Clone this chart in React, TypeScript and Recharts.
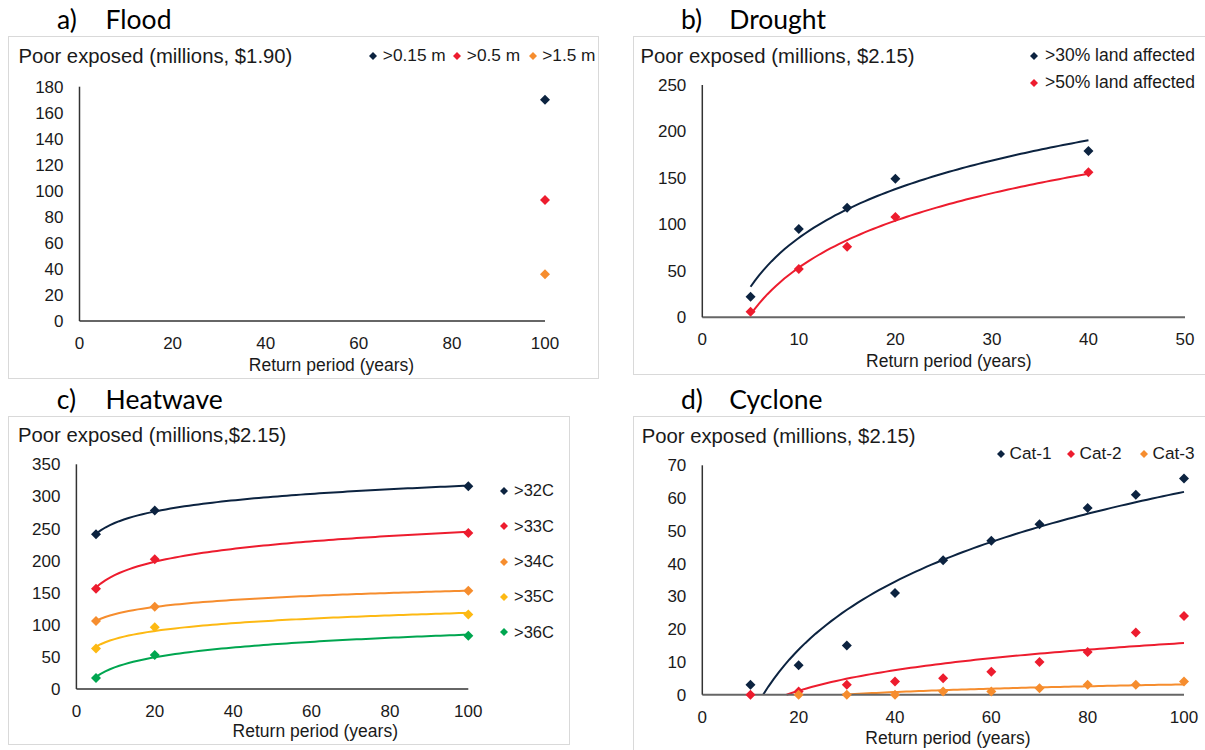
import { ComposedChart, Line, Scatter, XAxis, YAxis, Legend } from 'recharts'

const FONT = '"Liberation Sans", Arial, sans-serif'
const TITLE_FONT = 'Lato, "Open Sans", sans-serif'

const NAVY = '#0c2340'
const RED = '#ed1c2e'
const ORANGE = '#f68d2e'
const GOLD = '#fdb913'
const GREEN = '#00a650'

// a) Flood
const floodYears = [100]
const flood015 = [170]
const flood05 = [93]
const flood15 = [36]

// b) Drought
const droughtYears = [5, 10, 15, 20, 40]
const drought30 = [22, 95, 118, 149, 179]
const drought50 = [6, 52, 76, 108, 156]

// c) Heatwave
const heatYears = [5, 20, 100]
const heat32 = [241, 278, 316]
const heat33 = [156, 202, 243]
const heat34 = [106, 128, 153]
const heat35 = [63, 96, 116]
const heat36 = [17, 53, 83]

// d) Cyclone
const cycloneYears = [10, 20, 30, 40, 50, 60, 70, 80, 90, 100]
const cat1 = [3, 9, 15, 31, 41, 47, 52, 57, 61, 66]
const cat2 = [0, 1, 3, 4, 5, 7, 10, 13, 19, 24]
const cat3 = [null, 0, 0, 0, 1, 1, 2, 3, 3, 4]

// ticks
const years100Ticks = [0, 20, 40, 60, 80, 100]
const floodYTicks = [0, 20, 40, 60, 80, 100, 120, 140, 160, 180]
const droughtXTicks = [0, 10, 20, 30, 40, 50]
const droughtYTicks = [0, 50, 100, 150, 200, 250]
const heatYTicks = [0, 50, 100, 150, 200, 250, 300, 350]
const cycloneYTicks = [0, 10, 20, 30, 40, 50, 60, 70]

type Pt = { x: number; y: number }
type Series = { name: string; color: string; xs: number[]; ys: (number | null)[]; trend: boolean }

const toPoints = (xs: number[], ys: (number | null)[]): Pt[] =>
  xs.flatMap((x, i) => (ys[i] == null ? [] : [{ x, y: ys[i] as number }]))

// excel style log trendline (least squares on ln x), cut where it drops below the axis
const logTrend = (pts: Pt[]): Pt[] => {
  const n = pts.length
  const lx = pts.map((p) => Math.log(p.x))
  const mx = lx.reduce((s, v) => s + v, 0) / n
  const my = pts.reduce((s, p) => s + p.y, 0) / n
  let sxy = 0
  let sxx = 0
  pts.forEach((p, i) => {
    sxy += (lx[i] - mx) * (p.y - my)
    sxx += (lx[i] - mx) ** 2
  })
  const a = sxy / sxx
  const b = my - a * mx
  let x0 = pts[0].x
  const x1 = pts[n - 1].x
  const root = Math.exp(-b / a)
  if (a > 0 && root > x0) x0 = root
  const steps = 80
  return Array.from({ length: steps + 1 }, (_, i) => {
    const x = x0 + ((x1 - x0) * i) / steps
    return { x, y: Math.max(0, a * Math.log(x) + b) }
  })
}

const Diamond = (props: any) => {
  const { cx, cy, fill } = props
  if (cx == null || cy == null) return null
  const r = 5
  return <path d={`M${cx},${cy - r}L${cx + r},${cy}L${cx},${cy + r}L${cx - r},${cy}Z`} fill={fill} />
}

type Rect = { x: number; y: number; w: number; h: number }
type PanelProps = {
  tag: string
  title: string
  tagX: number
  titleX: number
  titleBase: number
  frame: Rect
  plot: { l: number; t: number; r: number; b: number }
  yLabel: string
  yLabelX: number
  yLabelBase: number
  xLabelX: number
  xLabelBase: number
  xDomain: [number, number]
  xTicks: number[]
  yDomain: [number, number]
  yTicks: number[]
  series: Series[]
  legendPos: { x: number; y: number }[]
  legendFont: number
  legendGap: number
}

const Panel = (p: PanelProps) => {
  const { frame, plot } = p
  const xAxisH = 30
  return (
    <>
      <div
        style={{
          position: 'absolute',
          left: frame.x,
          top: frame.y,
          width: frame.w,
          height: frame.h,
          border: '1.5px solid #d9d9d9',
          boxSizing: 'border-box',
        }}
      />
      <div style={{ position: 'absolute', left: frame.x, top: frame.y }}>
        <ComposedChart
          width={frame.w}
          height={frame.h}
          margin={{
            top: plot.t - frame.y,
            right: frame.x + frame.w - plot.r,
            bottom: frame.y + frame.h - plot.b - xAxisH,
            left: 0,
          }}
        >
          <XAxis
            dataKey="x"
            type="number"
            domain={p.xDomain}
            ticks={p.xTicks}
            interval={0}
            height={xAxisH}
            tickLine={false}
            tickMargin={10}
            axisLine={{ stroke: '#666666', strokeWidth: 2 }}
            tick={{ fill: '#1a1a1a', fontSize: 17, fontFamily: FONT }}
          />
          <YAxis
            dataKey="y"
            type="number"
            domain={p.yDomain}
            ticks={p.yTicks}
            interval={0}
            width={plot.l - frame.x}
            tickLine={false}
            tickMargin={10}
            axisLine={{ stroke: '#333333', strokeWidth: 1.5 }}
            tick={{ fill: '#1a1a1a', fontSize: 17, fontFamily: FONT }}
          />
          {p.series
            .filter((s) => s.trend)
            .map((s) => (
              <Line
                key={'t' + s.name}
                data={logTrend(toPoints(s.xs, s.ys))}
                dataKey="y"
                type="linear"
                stroke={s.color}
                strokeWidth={2}
                dot={false}
                activeDot={false}
                legendType="none"
                isAnimationActive={false}
              />
            ))}
          {p.series.map((s) => (
            <Scatter
              key={s.name}
              name={s.name}
              data={toPoints(s.xs, s.ys)}
              dataKey="y"
              fill={s.color}
              shape={(sp: any) => <Diamond {...sp} fill={s.color} />}
              isAnimationActive={false}
            />
          ))}
          <Legend
            layout="horizontal"
            verticalAlign="middle"
            align="center"
            wrapperStyle={{ left: 0, top: 0, width: frame.w, height: frame.h, pointerEvents: 'none' }}
            content={() => (
              <div style={{ position: 'relative', width: frame.w, height: frame.h }}>
                {p.series.map((s, i) => (
                  <div
                    key={s.name}
                    style={{
                      position: 'absolute',
                      left: p.legendPos[i].x - frame.x - 4,
                      top: p.legendPos[i].y - frame.y - 10,
                      height: 20,
                      display: 'flex',
                      alignItems: 'center',
                      whiteSpace: 'nowrap',
                      fontFamily: FONT,
                      fontSize: p.legendFont,
                      color: '#1a1a1a',
                    }}
                  >
                    <svg width={8} height={8} style={{ display: 'block' }}>
                      <path d="M4,0L8,4L4,8L0,4Z" fill={s.color} />
                    </svg>
                    <span style={{ marginLeft: p.legendGap }}>{s.name}</span>
                  </div>
                ))}
              </div>
            )}
          />
        </ComposedChart>
      </div>
      <svg
        width={1205}
        height={750}
        style={{ position: 'absolute', left: 0, top: 0, pointerEvents: 'none' }}
      >
        <text x={p.tagX} y={p.titleBase} fontFamily={TITLE_FONT} fontSize={26.5} fill="#000">
          {p.tag}
        </text>
        <text x={p.titleX} y={p.titleBase} fontFamily={TITLE_FONT} fontSize={26.5} fill="#000">
          {p.title}
        </text>
        <text x={p.yLabelX} y={p.yLabelBase} fontFamily={FONT} fontSize={20.3} fill="#1a1a1a">
          {p.yLabel}
        </text>
        <text
          x={p.xLabelX}
          y={p.xLabelBase}
          fontFamily={FONT}
          fontSize={17.5}
          fill="#1a1a1a"
          textAnchor="middle"
        >
          Return period (years)
        </text>
      </svg>
    </>
  )
}

const App = () => {
  return (
    <div
      style={{
        position: 'absolute',
        left: 0,
        top: 0,
        width: 1205,
        height: 750,
        background: '#fff',
        overflow: 'hidden',
      }}
    >
      <Panel
        tag="a)"
        title="Flood"
        tagX={57}
        titleX={105.6}
        titleBase={29.3}
        frame={{ x: 8, y: 36, w: 591, h: 343 }}
        plot={{ l: 79.5, t: 86.7, r: 545, b: 321 }}
        yLabel="Poor exposed (millions, $1.90)"
        yLabelX={18.4}
        yLabelBase={63.3}
        xLabelX={331.5}
        xLabelBase={370.7}
        xDomain={[0, 100]}
        xTicks={years100Ticks}
        yDomain={[0, 180]}
        yTicks={floodYTicks}
        series={[
          { name: '>0.15 m', color: NAVY, xs: floodYears, ys: flood015, trend: false },
          { name: '>0.5 m', color: RED, xs: floodYears, ys: flood05, trend: false },
          { name: '>1.5 m', color: ORANGE, xs: floodYears, ys: flood15, trend: false },
        ]}
        legendPos={[
          { x: 373.3, y: 55.8 },
          { x: 457.3, y: 55.8 },
          { x: 532.7, y: 55.8 },
        ]}
        legendFont={17.3}
        legendGap={5.5}
      />
      <Panel
        tag="b)"
        title="Drought"
        tagX={681}
        titleX={729.3}
        titleBase={29.3}
        frame={{ x: 633, y: 36, w: 575, h: 339 }}
        plot={{ l: 702.3, t: 85, r: 1185, b: 317.3 }}
        yLabel="Poor exposed (millions, $2.15)"
        yLabelX={640.5}
        yLabelBase={63.3}
        xLabelX={948.8}
        xLabelBase={366.7}
        xDomain={[0, 50]}
        xTicks={droughtXTicks}
        yDomain={[0, 250]}
        yTicks={droughtYTicks}
        series={[
          { name: '>30% land affected', color: NAVY, xs: droughtYears, ys: drought30, trend: true },
          { name: '>50% land affected', color: RED, xs: droughtYears, ys: drought50, trend: true },
        ]}
        legendPos={[
          { x: 1034, y: 55.8 },
          { x: 1034, y: 82.8 },
        ]}
        legendFont={17.5}
        legendGap={7}
      />
      <Panel
        tag="c)"
        title="Heatwave"
        tagX={56.8}
        titleX={105.6}
        titleBase={409.3}
        frame={{ x: 8, y: 416, w: 562, h: 329 }}
        plot={{ l: 76.4, t: 464.3, r: 468.3, b: 689 }}
        yLabel="Poor exposed (millions,$2.15)"
        yLabelX={18}
        yLabelBase={442.3}
        xLabelX={315.3}
        xLabelBase={736.7}
        xDomain={[0, 100]}
        xTicks={years100Ticks}
        yDomain={[0, 350]}
        yTicks={heatYTicks}
        series={[
          { name: '>32C', color: NAVY, xs: heatYears, ys: heat32, trend: true },
          { name: '>33C', color: RED, xs: heatYears, ys: heat33, trend: true },
          { name: '>34C', color: ORANGE, xs: heatYears, ys: heat34, trend: true },
          { name: '>35C', color: GOLD, xs: heatYears, ys: heat35, trend: true },
          { name: '>36C', color: GREEN, xs: heatYears, ys: heat36, trend: true },
        ]}
        legendPos={[
          { x: 504, y: 490.7 },
          { x: 504, y: 526 },
          { x: 504, y: 561.7 },
          { x: 504, y: 596.7 },
          { x: 504, y: 632.3 },
        ]}
        legendFont={16.5}
        legendGap={6}
      />
      <Panel
        tag="d)"
        title="Cyclone"
        tagX={681}
        titleX={729.3}
        titleBase={409.3}
        frame={{ x: 633, y: 416, w: 575, h: 340 }}
        plot={{ l: 702.3, t: 465.3, r: 1184, b: 694.7 }}
        yLabel="Poor exposed (millions, $2.15)"
        yLabelX={641.7}
        yLabelBase={443.3}
        xLabelX={948}
        xLabelBase={744}
        xDomain={[0, 100]}
        xTicks={years100Ticks}
        yDomain={[0, 70]}
        yTicks={cycloneYTicks}
        series={[
          { name: 'Cat-1', color: NAVY, xs: cycloneYears, ys: cat1, trend: true },
          { name: 'Cat-2', color: RED, xs: cycloneYears, ys: cat2, trend: true },
          { name: 'Cat-3', color: ORANGE, xs: cycloneYears, ys: cat3, trend: true },
        ]}
        legendPos={[
          { x: 1001, y: 453.5 },
          { x: 1071, y: 453.5 },
          { x: 1144, y: 453.5 },
        ]}
        legendFont={17.2}
        legendGap={4.5}
      />
    </div>
  )
}

export default App
